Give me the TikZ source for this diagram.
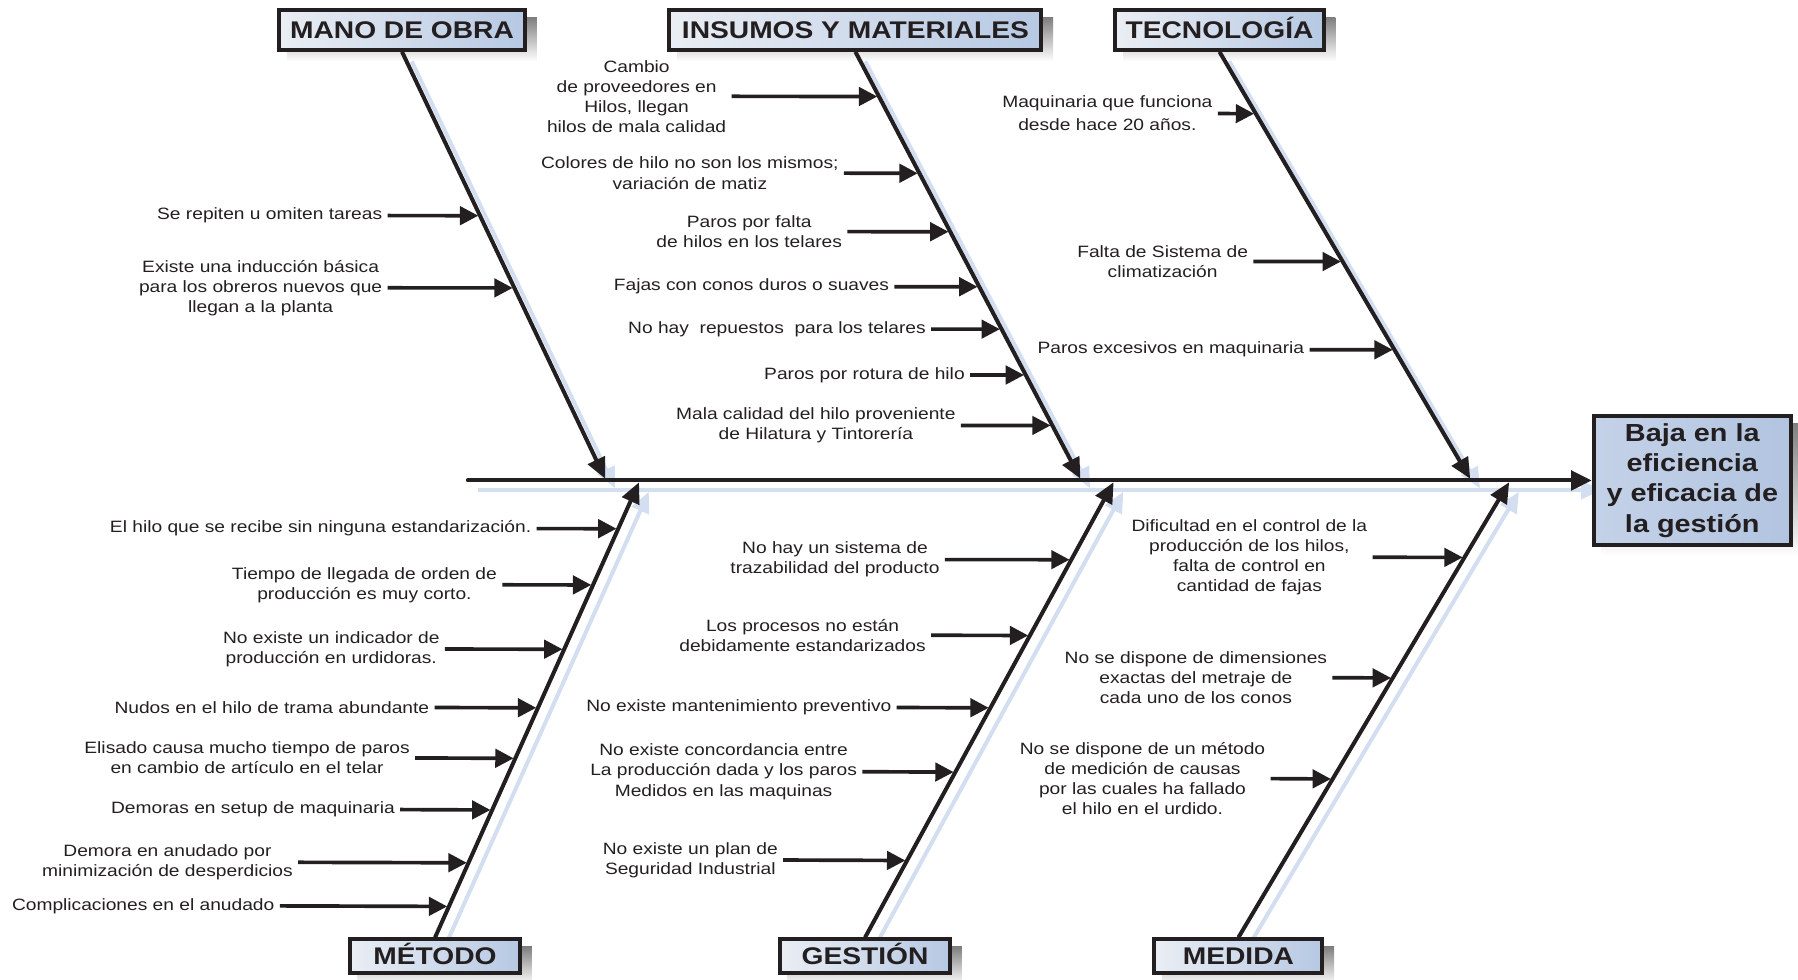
\documentclass[tikz,border=0pt]{standalone}
\usepackage{fontspec}
\setmainfont[FakeStretch=1.17]{Liberation Sans}
\usetikzlibrary{arrows.meta,calc,backgrounds}

\definecolor{ink}{HTML}{231F20}
\definecolor{shade}{HTML}{D3DEF0}
\definecolor{boxL}{HTML}{EAEEF4}
\definecolor{boxR}{HTML}{B6C8E3}
\definecolor{effL}{HTML}{C4D2E8}
\definecolor{effR}{HTML}{B2C4E0}

\tikzset{
  cause/.style={anchor=east, align=center, text=ink, inner xsep=4.5pt, inner ysep=0pt,
    font=\fontsize{14.3}{17.5}\selectfont},
  causearrow/.style={draw=ink, line width=3.2pt, -{Triangle[length=16pt,width=16pt]}, shorten >=1.5pt},
  header/.style={draw=ink, line width=3.5pt, left color=boxL, right color=boxR, text=ink,
    font=\bfseries\fontsize{21}{24}\selectfont, inner sep=0pt, text height=15pt, text depth=0pt},
  effectbox/.style={draw=ink, line width=3.5pt, left color=effL, right color=effR, text=ink,
    align=center, font=\bfseries\fontsize{21.5}{26.5}\selectfont, inner sep=0pt,
    minimum width=172pt, minimum height=112.5pt},
  bone/.style={draw=ink, line width=3.5pt, -{Triangle[length=18pt,width=16pt]}, shorten >=1.75pt},
  spineline/.style={draw=ink, line width=3.5pt, line cap=round, -{Triangle[length=18pt,width=17pt]}},
  ghost/.style={draw=shade, line width=3.5pt, -{Triangle[length=18pt,width=16pt]}, shorten >=1.75pt},
  sh/.style={shift={(8.5,8.3)}},
}

% #1 name, #2 bone start, #3 bone end, #4 y of start, #5 y of end,
% #6 x where the arrow starts, #7 y of the arrow, #8 text
\newcommand\cause[8]{%
  \node[cause] (#1) at (#6,#7) {#8};
  \coordinate (#1-on) at ($(#2)!{(#7-(#4))/((#5)-(#4))}!(#3)$);
  \draw[causearrow] (#1.east) -- (#1-on);
}

\begin{document}
\begin{tikzpicture}[x=1pt,y=-1pt]
\useasboundingbox (0,0) rectangle (1568,854);

% category boxes
\node[header, minimum width=214.5pt, minimum height=34.5pt] (mano) at (350.6,26.2) {MANO DE OBRA};
\node[header, minimum width=324.5pt, minimum height=34.5pt] (insumos) at (746,26.2) {INSUMOS Y MATERIALES};
\node[header, minimum width=181.5pt, minimum height=34.5pt] (tecno) at (1063.5,26.2) {TECNOLOGÍA};
\node[header, minimum width=148.5pt, minimum height=29.5pt] (metodo) at (379.4,834) {MÉTODO};
\node[header, minimum width=148.5pt, minimum height=29.5pt] (gestion) at (754.4,834) {GESTIÓN};
\node[header, minimum width=146.5pt, minimum height=29.5pt] (medida) at (1080,834) {MEDIDA};

% effect
\node[effectbox] (effect) at (1475.8,419) {Baja en la\\eficiencia\\y eficacia de\\la gestión};

% spine and bone ends
\coordinate (spine-start) at (408,419);
\coordinate (mano-tip) at (528.5,419);
\coordinate (insumos-tip) at (943,419);
\coordinate (tecno-tip) at (1283,419);
\coordinate (metodo-tip) at (558,419);
\coordinate (gestion-tip) at (972,419);
\coordinate (medida-tip) at (1317,419);

% light drop shadows
\begin{scope}[on background layer]
  \foreach \b in {mano,insumos,tecno,metodo,gestion,medida,effect}
    \fill[shade] ([sh]\b.south west) rectangle ([sh]\b.north east);
  \draw[ghost, shorten >=0pt] ([sh]spine-start) -- ([sh]effect.west);
  \foreach \b in {mano,insumos,tecno}
    \draw[ghost] ([sh]\b.south) -- ([sh]\b-tip);
  \foreach \b in {metodo,gestion,medida}
    \draw[ghost] ([sh]\b.north) -- ([sh]\b-tip);
\end{scope}

% spine and bones
\draw[spineline] (spine-start) -- (effect.west);
\foreach \b in {mano,insumos,tecno}
  \draw[bone] (\b.south) -- (\b-tip);
\foreach \b in {metodo,gestion,medida}
  \draw[bone] (\b.north) -- (\b-tip);

% MANO DE OBRA
\cause{m1}{mano.south}{mano-tip}{45}{419}{338}{188}{Se repiten u omiten tareas}
\cause{m2}{mano.south}{mano-tip}{45}{419}{338}{251}{Existe una inducción básica\\para los obreros nuevos que\\llegan a la planta}

% INSUMOS Y MATERIALES
\cause{i1}{insumos.south}{insumos-tip}{45}{419}{638}{84}{Cambio\\de proveedores en\\Hilos, llegan\\hilos de mala calidad}
\cause{i2}{insumos.south}{insumos-tip}{45}{419}{736}{151}{Colores de hilo no son los mismos;\\variación de matiz}
\cause{i3}{insumos.south}{insumos-tip}{45}{419}{739}{202}{Paros por falta\\de hilos en los telares}
\cause{i4}{insumos.south}{insumos-tip}{45}{419}{780}{250}{Fajas con conos duros o suaves}
\cause{i5}{insumos.south}{insumos-tip}{45}{419}{812}{287}{No hay\ \ repuestos\ \ para los telares}
\cause{i6}{insumos.south}{insumos-tip}{45}{419}{846}{327}{Paros por rotura de hilo}
\cause{i7}{insumos.south}{insumos-tip}{45}{419}{838}{371}{Mala calidad del hilo proveniente\\de Hilatura y Tintorería}

% TECNOLOGÍA
\cause{t1}{tecno.south}{tecno-tip}{45}{419}{1062}{99}{\vphantom{Mq}Maquinaria que funciona\\[2.5pt]desde hace 20 años.}
\cause{t2}{tecno.south}{tecno-tip}{45}{419}{1093}{228}{Falta de Sistema de\\climatización}
\cause{t3}{tecno.south}{tecno-tip}{45}{419}{1142}{305}{Paros excesivos en maquinaria}

% MÉTODO
\cause{e1}{metodo.north}{metodo-tip}{817}{419}{468}{461}{El hilo que se recibe sin ninguna estandarización.}
\cause{e2}{metodo.north}{metodo-tip}{817}{419}{438}{510}{Tiempo de llegada de orden de\\producción es muy corto.}
\cause{e3}{metodo.north}{metodo-tip}{817}{419}{388}{566}{No existe un indicador de\\producción en urdidoras.}
\cause{e4}{metodo.north}{metodo-tip}{817}{419}{379}{617}{Nudos en el hilo de trama abundante}
\cause{e5}{metodo.north}{metodo-tip}{817}{419}{362}{661}{Elisado causa mucho tiempo de paros\\en cambio de artículo en el telar}
\cause{e6}{metodo.north}{metodo-tip}{817}{419}{349}{706}{Demoras en setup de maquinaria}
\cause{e7}{metodo.north}{metodo-tip}{817}{419}{260}{752}{Demora en anudado por\\minimización de desperdicios}
\cause{e8}{metodo.north}{metodo-tip}{817}{419}{244}{790}{Complicaciones en el anudado}

% GESTIÓN
\cause{g1}{gestion.north}{gestion-tip}{817}{419}{824}{488}{No hay un sistema de\\trazabilidad del producto}
\cause{g2}{gestion.north}{gestion-tip}{817}{419}{812}{554}{Los procesos no están\\debidamente estandarizados}
\cause{g3}{gestion.north}{gestion-tip}{817}{419}{782}{617}{No existe mantenimiento preventivo}
\cause{g4}{gestion.north}{gestion-tip}{817}{419}{752}{673}{No existe concordancia entre\\La producción dada y los paros\\Medidos en las maquinas}
\cause{g5}{gestion.north}{gestion-tip}{817}{419}{683}{750}{No existe un plan de\\Seguridad Industrial}

% MEDIDA
\cause{d1}{medida.north}{medida-tip}{817}{419}{1197}{486}{Dificultad en el control de la\\producción de los hilos,\\falta de control en\\cantidad de fajas}
\cause{d2}{medida.north}{medida-tip}{817}{419}{1162}{591}{No se dispone de dimensiones\\exactas del metraje de\\cada uno de los conos}
\cause{d3}{medida.north}{medida-tip}{817}{419}{1108}{679}{No se dispone de un método\\de medición de causas\\por las cuales ha fallado\\el hilo en el urdido.}

\end{tikzpicture}
\end{document}
